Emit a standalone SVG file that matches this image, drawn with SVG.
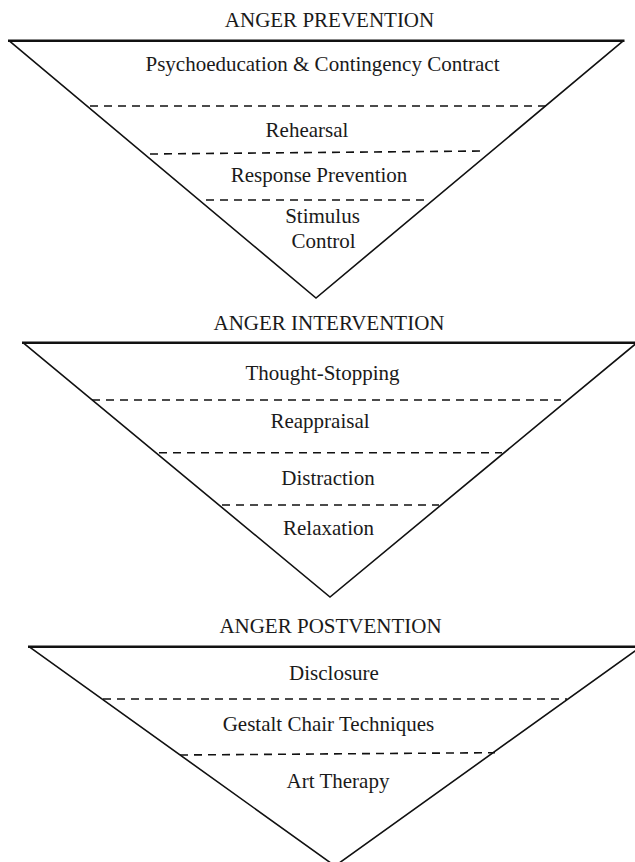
<svg xmlns="http://www.w3.org/2000/svg" width="635" height="862" viewBox="0 0 635 862">
<style>
text{font-family:"Liberation Serif","Times New Roman",serif;font-size:21px;fill:#1a1a1a;text-anchor:middle}
.tri{fill:none;stroke:#111;stroke-width:1.6;stroke-linejoin:miter}
.top{stroke:#111;stroke-width:2.4}
.dash{stroke:#111;stroke-width:1.6;stroke-dasharray:8 6;fill:none}
</style>
<rect width="635" height="862" fill="#fff"/>
<g id="prevention">
<text x="329.5" y="27">ANGER PREVENTION</text>
<polyline class="tri" points="9,40.7 316,298 623.5,40.7"/>
<line class="top" x1="8" y1="40.7" x2="624.5" y2="40.7"/>
<line class="dash" x1="90" y1="106" x2="547" y2="106"/>
<line class="dash" x1="150" y1="154" x2="482" y2="151"/>
<line class="dash" x1="206" y1="200" x2="424" y2="200"/>
<text x="322.5" y="71">Psychoeducation &amp; Contingency Contract</text>
<text x="307" y="137">Rehearsal</text>
<text x="319" y="182">Response Prevention</text>
<text x="322.5" y="223">Stimulus</text>
<text x="323.5" y="248">Control</text>
</g>
<g id="intervention">
<text x="329" y="330">ANGER INTERVENTION</text>
<polyline class="tri" points="23,342.7 330,597 637,342.7"/>
<line class="top" x1="22" y1="342.7" x2="640" y2="342.7"/>
<line class="dash" x1="92" y1="400" x2="561" y2="400"/>
<line class="dash" x1="159" y1="452.7" x2="502" y2="452.7"/>
<line class="dash" x1="222" y1="505" x2="439" y2="505"/>
<text x="322.5" y="380">Thought-Stopping</text>
<text x="320" y="428">Reappraisal</text>
<text x="328" y="485">Distraction</text>
<text x="328.5" y="535">Relaxation</text>
</g>
<g id="postvention">
<text x="330.5" y="632.7">ANGER POSTVENTION</text>
<polyline class="tri" points="29,646.7 335,866 641,646.7"/>
<line class="top" x1="28" y1="646.7" x2="645" y2="646.7"/>
<line class="dash" x1="103" y1="699" x2="567" y2="699"/>
<line class="dash" x1="180" y1="755" x2="495" y2="752.7"/>
<text x="334" y="680">Disclosure</text>
<text x="328.5" y="730.7">Gestalt Chair Techniques</text>
<text x="338" y="788.3">Art Therapy</text>
</g>
<g id="connectors"/>
</svg>
